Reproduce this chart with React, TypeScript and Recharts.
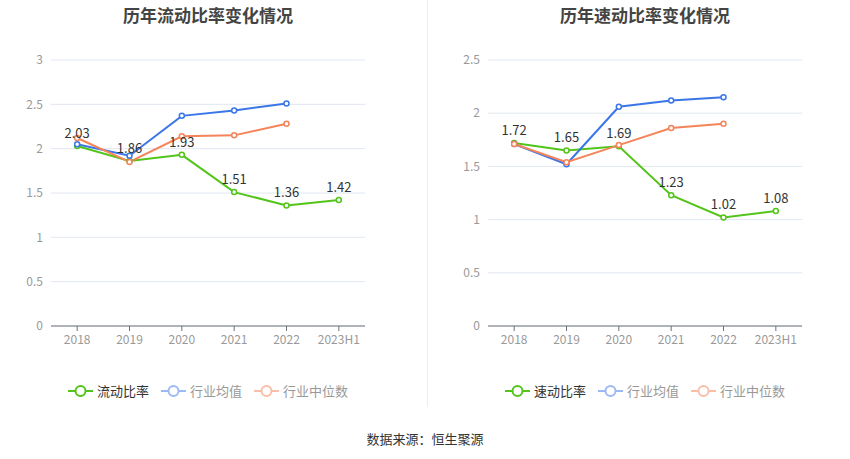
import React from 'react'
import { LineChart, Line, XAxis, YAxis, CartesianGrid, LabelList } from 'recharts'

const years = ['2018', '2019', '2020', '2021', '2022', '2023H1']

const currentRatio = [2.03, 1.86, 1.93, 1.51, 1.36, 1.42]
const currentIndustryAvg = [2.05, 1.92, 2.37, 2.43, 2.51, null]
const currentIndustryMedian = [2.12, 1.85, 2.14, 2.15, 2.28, null]

const quickRatio = [1.72, 1.65, 1.69, 1.23, 1.02, 1.08]
const quickIndustryAvg = [1.71, 1.52, 2.06, 2.12, 2.15, null]
const quickIndustryMedian = [1.71, 1.54, 1.7, 1.86, 1.9, null]

const currentTicks = [0, 0.5, 1, 1.5, 2, 2.5, 3]
const quickTicks = [0, 0.5, 1, 1.5, 2, 2.5]

const FONT = '"Microsoft YaHei", "Noto Sans CJK SC", sans-serif'

const GREEN = '#52c41a'
const BLUE = '#3b76e8'
const ORANGE = '#f5845a'

const legendItems = (mainName: string) => [
  { name: mainName, color: GREEN, text: '#333' },
  { name: '行业均值', color: '#9db9f5', text: '#999' },
  { name: '行业中位数', color: '#fbbfa8', text: '#999' },
]

const CustomLegend = ({ mainName }: { mainName: string }) => (
  <div style={{ display: 'flex', justifyContent: 'center', gap: 12, fontFamily: FONT, fontSize: 13 }}>
    {legendItems(mainName).map((item) => (
      <div key={item.name} style={{ display: 'flex', alignItems: 'center' }}>
        <svg width={25} height={14} style={{ marginRight: 4 }}>
          <line x1={0} y1={7} x2={25} y2={7} stroke={item.color} strokeWidth={2} />
          <circle cx={12.5} cy={7} r={5} fill="#fff" stroke={item.color} strokeWidth={2} />
        </svg>
        <span style={{ color: item.text }}>{item.name}</span>
      </div>
    ))}
  </div>
)

interface RatioChartProps {
  title: string
  mainName: string
  main: number[]
  avg: (number | null)[]
  median: (number | null)[]
  ticks: number[]
  marginLeft: number
  marginRight: number
}

function RatioChart({ title, mainName, main, avg, median, ticks, marginLeft, marginRight }: RatioChartProps) {
  const data = years.map((year, i) => ({
    year,
    main: main[i],
    avg: avg[i],
    median: median[i],
  }))
  const plotLeft = marginLeft + 40
  const plotWidth = 425 - plotLeft - marginRight
  const halfBand = plotWidth / years.length / 2

  return (
    <div style={{ position: 'relative', width: 425, height: 420 }}>
      <div
        style={{
          position: 'absolute',
          left: plotLeft,
          width: plotWidth,
          top: 2,
          textAlign: 'center',
          fontFamily: FONT,
          fontSize: 17,
          fontWeight: 'bold',
          color: '#444',
        }}
      >
        {title}
      </div>
      <LineChart
        width={425}
        height={420}
        data={data}
        margin={{ top: 60, right: marginRight, left: marginLeft, bottom: 64 }}
      >
        <CartesianGrid vertical={false} stroke="#e0e6f1" />
        <XAxis
          dataKey="year"
          height={30}
          padding={{ left: halfBand, right: halfBand }}
          stroke="#6e7079"
          tickSize={5}
          tickMargin={4}
          tick={{ fill: '#999', fontSize: 12, fontFamily: FONT }}
        />
        <YAxis
          width={40}
          ticks={ticks}
          domain={[0, ticks[ticks.length - 1]]}
          axisLine={false}
          tickLine={false}
          tickSize={4}
          tickMargin={4}
          tick={{ fill: '#999', fontSize: 12, fontFamily: FONT }}
        />
        <Line
          dataKey="main"
          stroke={GREEN}
          strokeWidth={2}
          dot={{ r: 2.5, fill: '#fff', stroke: GREEN, strokeWidth: 1.5 }}
          isAnimationActive={false}
        >
          <LabelList dataKey="main" position="top" offset={8} fill="#333" fontSize={13} fontFamily={FONT} />
        </Line>
        <Line
          dataKey="avg"
          stroke={BLUE}
          strokeWidth={2}
          dot={{ r: 2.5, fill: '#fff', stroke: BLUE, strokeWidth: 1.5 }}
          isAnimationActive={false}
        />
        <Line
          dataKey="median"
          stroke={ORANGE}
          strokeWidth={2}
          dot={{ r: 2.5, fill: '#fff', stroke: ORANGE, strokeWidth: 1.5 }}
          isAnimationActive={false}
        />
      </LineChart>
      <div style={{ position: 'absolute', top: 381, left: plotLeft, width: plotWidth }}>
        <CustomLegend mainName={mainName} />
      </div>
    </div>
  )
}

export default function App() {
  return (
    <div style={{ position: 'fixed', left: 0, top: 0, width: 850, height: 459, background: '#fff', overflow: 'hidden' }}>
      <div style={{ display: 'flex' }}>
        <RatioChart
          title="历年流动比率变化情况"
          mainName="流动比率"
          main={currentRatio}
          avg={currentIndustryAvg}
          median={currentIndustryMedian}
          ticks={currentTicks}
          marginLeft={11}
          marginRight={60}
        />
        <div style={{ position: 'absolute', left: 427, top: 0, width: 1, height: 407, background: '#eee' }} />
        <RatioChart
          title="历年速动比率变化情况"
          mainName="速动比率"
          main={quickRatio}
          avg={quickIndustryAvg}
          median={quickIndustryMedian}
          ticks={quickTicks}
          marginLeft={23}
          marginRight={48}
        />
      </div>
      <div
        style={{
          position: 'absolute',
          top: 429,
          left: 0,
          width: 850,
          textAlign: 'center',
          fontFamily: FONT,
          fontSize: 13,
          color: '#333',
        }}
      >
        数据来源：恒生聚源
      </div>
    </div>
  )
}
